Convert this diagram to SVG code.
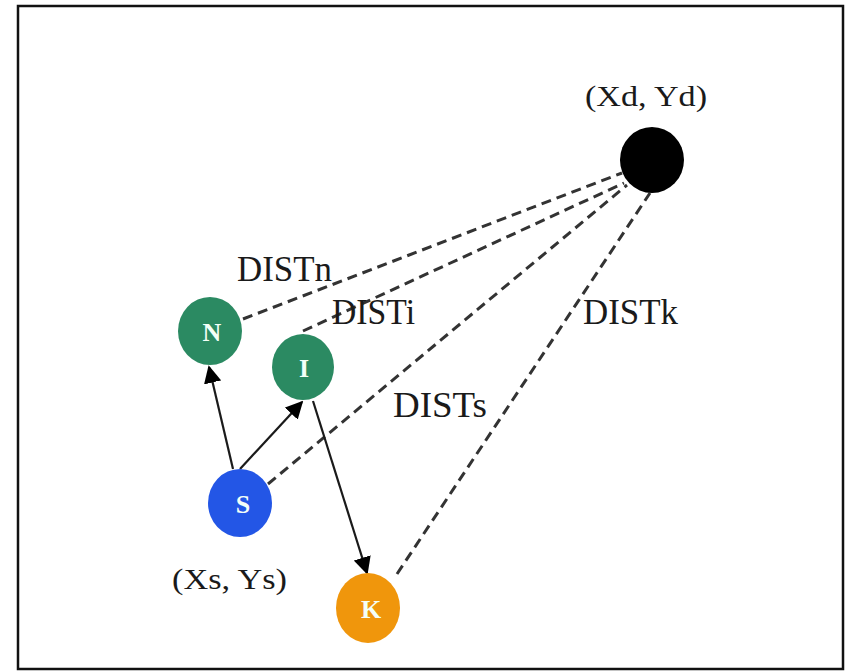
<svg xmlns="http://www.w3.org/2000/svg" width="846" height="672" viewBox="0 0 846 672">
<style>
.lbl{font-family:"Liberation Serif","Times New Roman",serif;fill:#1a1a1a}
.dist{font-size:35px}
.coord{font-size:29px}
.nl{font-family:"Liberation Serif","Times New Roman",serif;font-size:26px;font-weight:bold;fill:#f4fff8;text-anchor:middle}
.dash{stroke:#333;stroke-width:3;stroke-dasharray:10 6;fill:none}
.arr{stroke:#1a1a1a;stroke-width:2.2;fill:none;marker-end:url(#ah)}
</style>
<defs>
<marker id="ah" viewBox="0 0 10 10" refX="9" refY="5" markerWidth="8" markerHeight="8" markerUnits="strokeWidth" orient="auto">
<path d="M0,0 L10,5 L0,10 z" fill="#000"/>
</marker>
</defs>
<rect x="0" y="0" width="846" height="672" fill="#ffffff"/>
<rect x="18" y="6" width="825" height="663" fill="none" stroke="#111" stroke-width="2.5"/>
<g id="connectors">
<line class="dash" x1="243" y1="319" x2="622" y2="173"/>
<line class="dash" x1="303" y1="331" x2="624" y2="183"/>
<line class="dash" x1="268" y1="484" x2="627" y2="185"/>
<line class="dash" x1="397" y1="574" x2="650" y2="193"/>
<line class="arr" x1="233" y1="469" x2="209" y2="367"/>
<line class="arr" x1="240" y1="469" x2="302" y2="402"/>
<line class="arr" x1="313" y1="401" x2="367" y2="573"/>
</g>
<g id="node-D">
<ellipse cx="652" cy="160" rx="32" ry="33" fill="#000"/>
<text class="lbl coord" x="585" y="106" textLength="122" lengthAdjust="spacingAndGlyphs">(Xd, Yd)</text>
</g>
<g id="node-N">
<ellipse cx="210" cy="331" rx="32" ry="34" fill="#2b8a62"/>
<text class="nl" x="212" y="341">N</text>
</g>
<g id="node-I">
<ellipse cx="303" cy="367" rx="31" ry="33" fill="#2b8a62"/>
<text class="nl" x="304" y="377">I</text>
</g>
<g id="node-S">
<ellipse cx="240" cy="503" rx="32" ry="34" fill="#2356e6"/>
<text class="nl" x="243" y="513">S</text>
</g>
<g id="node-K">
<ellipse cx="368" cy="608" rx="32" ry="35" fill="#f0960c"/>
<text class="nl" x="371" y="618">K</text>
</g>
<g id="labels">
<text class="lbl dist" x="237" y="281" textLength="95" lengthAdjust="spacingAndGlyphs">DISTn</text>
<text class="lbl dist" x="332" y="324" textLength="83" lengthAdjust="spacingAndGlyphs">DISTi</text>
<text class="lbl dist" x="393" y="417" textLength="94" lengthAdjust="spacingAndGlyphs">DISTs</text>
<text class="lbl dist" x="583" y="324" textLength="95" lengthAdjust="spacingAndGlyphs">DISTk</text>
<text class="lbl coord" x="172" y="589" textLength="115" lengthAdjust="spacingAndGlyphs">(Xs, Ys)</text>
</g>
</svg>
